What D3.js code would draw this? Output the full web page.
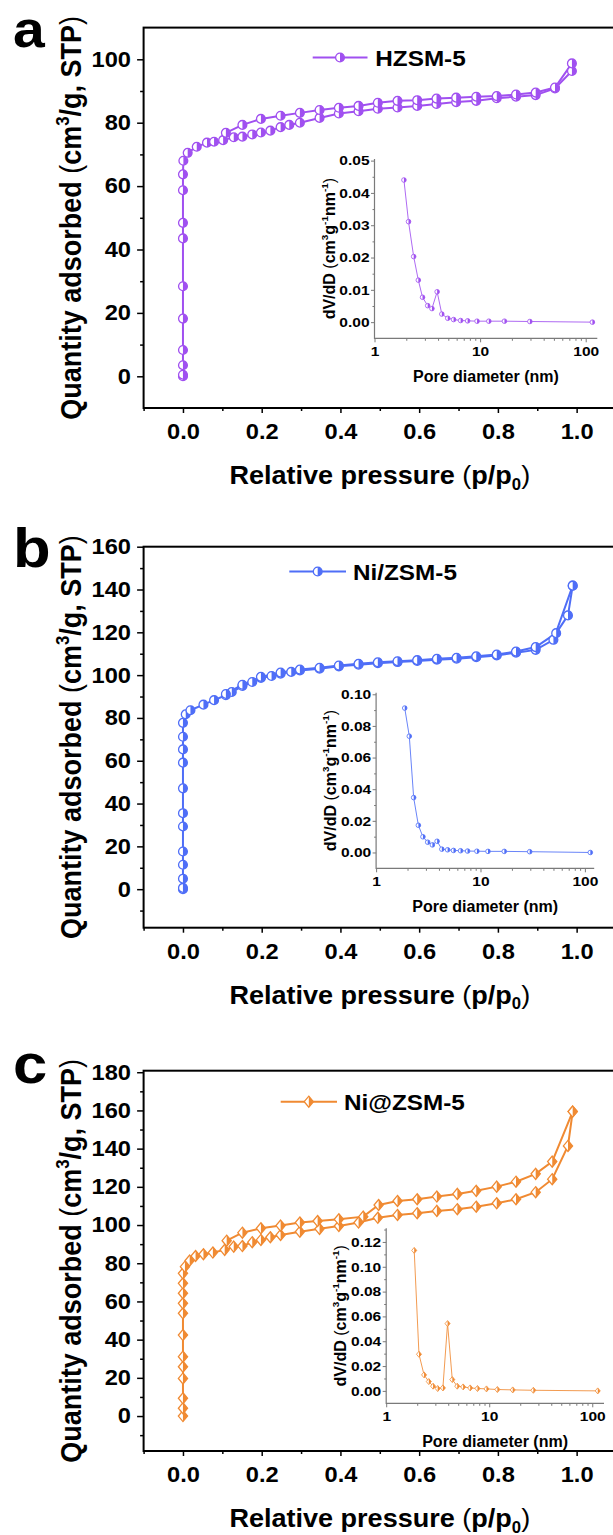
<!DOCTYPE html>
<html>
<head>
<meta charset="utf-8">
<script src="https://cdn.jsdelivr.net/npm/d3@7"></script>
<style>
body { margin: 0; background: #fff; }
svg { display: block; }
text { font-family: "Liberation Sans", Arial, sans-serif; font-weight: bold; fill: #000; }
</style>
</head>
<body>
<svg id="fig" width="613" height="1535"></svg>
<script>
// ---- panel a : HZSM-5 ----
var hzAdsP = [0, 0, 0, 0, 0, 0, 0, 0, 0, 0, 0.001, 0.012, 0.035, 0.061, 0.079, 0.102, 0.129, 0.151, 0.176, 0.198, 0.222, 0.248, 0.270, 0.297, 0.347, 0.396, 0.446, 0.495, 0.545, 0.595, 0.644, 0.694, 0.745, 0.797, 0.846, 0.896, 0.945, 0.988];
var hzAdsQ = [0, 0.5, 3.5, 8.3, 18.2, 28.4, 43.5, 48.4, 58.7, 63.7, 68.0, 70.5, 72.4, 73.7, 74.0, 74.5, 75.4, 75.6, 76.3, 76.9, 77.5, 78.6, 79.3, 80.0, 81.5, 82.9, 83.6, 84.4, 84.8, 85.3, 85.9, 86.5, 86.9, 87.7, 88.2, 88.7, 90.8, 96.3];
var hzDesP = [0.988, 0.945, 0.896, 0.846, 0.797, 0.745, 0.694, 0.644, 0.595, 0.545, 0.495, 0.446, 0.396, 0.347, 0.297, 0.248, 0.198, 0.151, 0.109];
var hzDesQ = [98.7, 91.1, 89.5, 88.9, 88.4, 88.2, 87.9, 87.6, 87.1, 86.9, 86.3, 85.3, 84.7, 84.0, 83.1, 82.2, 81.2, 79.3, 76.8];
var hzPoreD = [1.90, 2.10, 2.35, 2.60, 2.85, 3.19, 3.50, 3.92, 4.34, 4.94, 5.61, 6.54, 7.62, 9.36, 12.1, 17.0, 29.6, 115.7];
var hzPoreV = [0.0440, 0.0311, 0.0203, 0.0130, 0.0077, 0.0051, 0.0042, 0.0094, 0.0025, 0.0012, 0.0008, 0.0005, 0.0004, 0.0003, 0.0003, 0.0003, 0.0002, 0.0000];

// ---- panel b : Ni/ZSM-5 ----
var niAdsP = [0, 0, 0, 0, 0, 0, 0, 0, 0, 0, 0, 0, 0.007, 0.019, 0.052, 0.079, 0.109, 0.124, 0.151, 0.176, 0.198, 0.225, 0.248, 0.275, 0.297, 0.347, 0.396, 0.446, 0.495, 0.545, 0.595, 0.645, 0.695, 0.745, 0.797, 0.846, 0.896, 0.941, 0.990];
var niAdsQ = [0, 0.6, 4.9, 11.4, 17.6, 29.3, 35.5, 47.1, 59.1, 65.3, 71.2, 77.7, 81.7, 83.6, 86.2, 88.3, 90.6, 92.1, 94.9, 96.8, 98.7, 99.6, 100.7, 101.5, 102.2, 103.0, 104.1, 104.9, 105.6, 106.1, 106.6, 107.2, 107.7, 108.4, 109.2, 110.5, 111.8, 116.5, 141.8];
var niDesP = [0.990, 0.978, 0.948, 0.896, 0.846, 0.797, 0.745, 0.695, 0.645, 0.595, 0.545, 0.495, 0.446, 0.396, 0.347, 0.297, 0.248, 0.198, 0.151, 0.109];
var niDesQ = [141.8, 127.9, 119.6, 113.1, 111.0, 109.6, 108.8, 108.1, 107.6, 107.0, 106.5, 106.0, 105.3, 104.5, 103.4, 102.6, 101.2, 99.2, 95.5, 91.2];
var niPoreD = [1.88, 2.08, 2.29, 2.54, 2.81, 3.12, 3.46, 3.84, 4.26, 4.84, 5.51, 6.44, 7.52, 9.24, 11.8, 16.9, 29.6, 112.7];
var niPoreV = [0.0913, 0.0735, 0.0347, 0.0172, 0.0099, 0.0065, 0.0048, 0.0071, 0.0021, 0.0017, 0.0013, 0.0011, 0.0009, 0.0008, 0.0007, 0.0007, 0.0005, 0.0000];

// ---- panel c : Ni@ZSM-5 ----
var encAdsP = [0, 0, 0, 0, 0, 0, 0, 0, 0, 0, 0, 0, 0.005, 0.017, 0.032, 0.052, 0.076, 0.106, 0.129, 0.151, 0.176, 0.198, 0.222, 0.248, 0.297, 0.347, 0.396, 0.446, 0.495, 0.545, 0.595, 0.645, 0.697, 0.745, 0.797, 0.846, 0.896, 0.938, 0.978, 0.990];
var encAdsQ = [0, 4.1, 9.3, 19.7, 25.8, 31.1, 42.4, 53.8, 59.0, 64.3, 69.5, 74.7, 78.2, 81.4, 83.8, 84.7, 85.6, 87.0, 88.7, 89.0, 91.0, 92.2, 93.6, 94.8, 96.5, 98.0, 99.5, 101.3, 103.8, 105.3, 106.2, 107.4, 108.3, 109.6, 111.4, 113.5, 117.2, 124.0, 141.4, 159.4];
var encDesP = [0.990, 0.938, 0.896, 0.846, 0.797, 0.745, 0.697, 0.645, 0.595, 0.545, 0.497, 0.458, 0.396, 0.342, 0.297, 0.248, 0.198, 0.151, 0.111];
var encDesQ = [159.4, 133.2, 126.8, 122.7, 120.1, 117.9, 116.3, 114.9, 113.5, 112.6, 110.5, 104.4, 103.0, 102.1, 101.3, 99.7, 98.3, 96.0, 91.8];
var encPoreD = [1.87, 2.08, 2.33, 2.59, 2.85, 3.16, 3.55, 3.94, 4.38, 4.89, 5.58, 6.53, 7.69, 9.4, 12.0, 16.9, 26.8, 113];
var encPoreV = [0.1132, 0.0295, 0.0129, 0.0075, 0.0038, 0.0019, 0.0024, 0.0542, 0.0091, 0.0038, 0.0032, 0.0024, 0.0019, 0.0016, 0.0011, 0.0008, 0.0005, 0.0000];

// ---- ticks ----
var xMajor = [0, 0.2, 0.4, 0.6, 0.8, 1.0];
var xMinor = [-0.1, 0.1, 0.3, 0.5, 0.7, 0.9];
var yMajorA = [0, 20, 40, 60, 80, 100];
var yMinorA = [10, 30, 50, 70, 90];
var yMajorB = [0, 20, 40, 60, 80, 100, 120, 140, 160];
var yMinorB = [-10, 10, 30, 50, 70, 90, 110, 130, 150];
var yMajorC = [0, 20, 40, 60, 80, 100, 120, 140, 160, 180];
var yMinorC = [-10, 10, 30, 50, 70, 90, 110, 130, 150, 170];
var poreMajor = [1, 10, 100];
var poreMinor = [2, 3, 4, 5, 6, 7, 8, 9, 20, 30, 40, 50, 60, 70, 80, 90];
var inMajorA = [0, 0.01, 0.02, 0.03, 0.04, 0.05];
var inMinorA = [0.005, 0.015, 0.025, 0.035, 0.045];
var inMajorB = [0, 0.02, 0.04, 0.06, 0.08, 0.10];
var inMinorB = [0.01, 0.03, 0.05, 0.07, 0.09];
var inMajorC = [0, 0.02, 0.04, 0.06, 0.08, 0.10, 0.12];
var inMinorC = [0.01, 0.03, 0.05, 0.07, 0.09, 0.11, 0.13];

var svg = d3.select("#fig");

// text made of parts: [string, kind] kind = "" | "thin" | "sup" | "sub"
function label(g, x, y, parts, size, sx, anchor, rot) {
  var tf = "translate(" + x + "," + y + ")" + (rot ? " rotate(-90) scale(1," + sx + ")" : " scale(" + sx + ",1)");
  var t = g.append("text")
    .attr("transform", tf)
    .attr("text-anchor", anchor || "start")
    .style("font-size", size + "px");
  var shift = 0;
  parts.forEach(function (p) {
    var s = t.append("tspan").text(p[0]);
    var want = 0;
    if (p[1] == "sup") { want = -0.42 * size; s.style("font-size", (0.62 * size) + "px"); }
    if (p[1] == "sub") { want = 0.22 * size; s.style("font-size", (0.62 * size) + "px"); }
    if (p[1] == "thin") s.style("font-weight", "normal");
    if (want != shift) { s.attr("dy", want - shift); shift = want; }
  });
  return t;
}

function halfMarker(sel, shape, r, color, sw) {
  sel.each(function () {
    var m = d3.select(this);
    if (shape == "circle") {
      m.append("circle").attr("r", r).attr("fill", "#fff").attr("stroke", color).attr("stroke-width", sw);
      m.append("path").attr("d", "M0," + (-r) + "A" + r + "," + r + " 0 0 1 0," + r + "Z").attr("fill", color);
    } else {
      var h = r * 1.2;
      m.append("path").attr("d", "M0," + (-h) + "L" + r + ",0L0," + h + "L" + (-r) + ",0Z")
        .attr("fill", "#fff").attr("stroke", color).attr("stroke-width", sw);
      m.append("path").attr("d", "M0," + (-h) + "L" + r + ",0L0," + h + "Z").attr("fill", color);
    }
  });
}

function styleAxis(a, color, sw) {
  a.select(".domain").remove();
  a.selectAll(".tick line").attr("stroke", color).attr("stroke-width", sw);
}

function panel(o) {
  var g = svg.append("g");
  var left = 143.6, right = 616;

  var x = d3.scaleLinear().domain([-0.1, 1.1]).range([left, right]);
  var y = d3.scaleLinear().domain(o.yDom).range([o.bottom, o.top]);

  styleAxis(g.append("g").attr("transform", "translate(0," + o.bottom + ")")
    .call(d3.axisBottom(x).tickValues(xMinor).tickSize(3).tickSizeOuter(0).tickFormat("")), "#000", 1.5);
  var xa = g.append("g").attr("transform", "translate(0," + o.bottom + ")")
    .call(d3.axisBottom(x).tickValues(xMajor).tickSize(5).tickSizeOuter(0).tickPadding(11).tickFormat(d3.format(".1f")));
  styleAxis(xa, "#000", 1.5);
  xa.selectAll("text").attr("fill", "#000").style("font-size", "21.5px").attr("transform", "scale(1.1,1)");

  styleAxis(g.append("g").attr("transform", "translate(" + left + ",0)")
    .call(d3.axisLeft(y).tickValues(o.yMinor).tickSize(3.5).tickSizeOuter(0).tickFormat("")), "#000", 1.5);
  var ya = g.append("g").attr("transform", "translate(" + left + ",0)")
    .call(d3.axisLeft(y).tickValues(o.yMajor).tickSize(6.5).tickSizeOuter(0).tickPadding(5));
  styleAxis(ya, "#000", 1.5);
  ya.selectAll("text").attr("fill", "#000").style("font-size", "21.5px").attr("transform", "scale(1.1,1)");

  g.append("rect")
    .attr("x", left).attr("y", o.top)
    .attr("width", right - left).attr("height", o.bottom - o.top)
    .attr("fill", "none").attr("stroke", "#000").attr("stroke-width", 2);

  // isotherm branches
  var line = d3.line().x(function (d) { return x(d[0]); }).y(function (d) { return y(d[1]); });
  var ads = d3.zip(o.adsP, o.adsQ), des = d3.zip(o.desP, o.desQ);
  [ads, des].forEach(function (br) {
    g.append("path").datum(br).attr("d", line)
      .attr("fill", "none").attr("stroke", o.color).attr("stroke-width", 2);
  });
  [ads, des].forEach(function (br) {
    g.append("g").selectAll("g").data(br).enter().append("g")
      .attr("transform", function (d) { return "translate(" + x(d[0]) + "," + y(d[1]) + ")"; })
      .call(halfMarker, o.shape, o.shape == "circle" ? 4.4 : 4.6, o.color, 1.3);
  });

  // legend
  g.append("line")
    .attr("x1", o.legX[0]).attr("x2", o.legX[1]).attr("y1", o.legY).attr("y2", o.legY)
    .attr("stroke", o.color).attr("stroke-width", 2);
  g.append("g").attr("transform", "translate(" + o.legX[2] + "," + o.legY + ")")
    .call(halfMarker, o.shape, o.shape == "circle" ? 4.4 : 4.6, o.color, 1.3);
  label(g, o.legX[3], o.legY + 8, [[o.name, ""]], 22.5, 1.08, "start");

  // titles
  label(g, 13, o.letterY, [[o.letter, ""]], o.letterSize, 1.12, "start");
  label(g, (left + right) / 2, o.bottom + 76,
    [["Relative pressure ", ""], ["(", "thin"], ["p/p", ""], ["0", "sub"], [")", "thin"]], 26, 1.04, "middle");
  label(g, 81, (o.top + o.bottom) / 2,
    [["Quantity adsorbed ", ""], ["(", "thin"], ["cm", ""], ["3", "sup"], ["/g, STP", ""], [")", "thin"]], 27, 1.1, "middle", true);

  // inset: pore size distribution
  var ix = d3.scaleLog().domain([1, o.iXmax]).range([o.iL, o.iR]);
  var iy = d3.scaleLinear().domain(o.iYDom).range([o.iB, o.iT]);
  var gray = "#7a7a7a";

  styleAxis(g.append("g").attr("transform", "translate(0," + o.iB + ")")
    .call(d3.axisBottom(ix).tickValues(poreMinor).tickSize(2.5).tickSizeOuter(0).tickFormat("")), gray, 1);
  var ixa = g.append("g").attr("transform", "translate(0," + o.iB + ")")
    .call(d3.axisBottom(ix).tickValues(poreMajor).tickSize(4).tickSizeOuter(0).tickPadding(4).tickFormat(d3.format("d")));
  styleAxis(ixa, gray, 1);
  ixa.selectAll("text").attr("fill", "#000").style("font-size", "13.5px").attr("transform", "scale(1.15,1)");

  styleAxis(g.append("g").attr("transform", "translate(" + o.iL + ",0)")
    .call(d3.axisLeft(iy).tickValues(o.iMinor).tickSize(2).tickSizeOuter(0).tickFormat("")), gray, 1);
  var iya = g.append("g").attr("transform", "translate(" + o.iL + ",0)")
    .call(d3.axisLeft(iy).tickValues(o.iMajor).tickSize(3.5).tickSizeOuter(0).tickPadding(0.8).tickFormat(d3.format(".2f")));
  styleAxis(iya, gray, 1);
  iya.selectAll("text").attr("fill", "#000").style("font-size", "13.5px").attr("transform", "scale(1.15,1)");

  g.append("path").attr("d", "M" + o.iL + "," + o.iT + "V" + o.iB + "H" + o.iR)
    .attr("fill", "none").attr("stroke", gray).attr("stroke-width", 1.2);

  var pd = d3.zip(o.poreD, o.poreV);
  var iline = d3.line().x(function (d) { return ix(d[0]); }).y(function (d) { return iy(d[1]); });
  g.append("path").datum(pd).attr("d", iline)
    .attr("fill", "none").attr("stroke", o.color).attr("stroke-width", 1).attr("stroke-opacity", 0.85);
  g.append("g").selectAll("g").data(pd).enter().append("g")
    .attr("transform", function (d) { return "translate(" + ix(d[0]) + "," + iy(d[1]) + ")"; })
    .call(halfMarker, o.shape, o.shape == "circle" ? 2.3 : 2.5, o.color, 0.8);

  label(g, (o.iL + o.iR) / 2, o.iB + 43.5, [["Pore diameter (nm)", ""]], 16, 1, "middle");
  label(g, o.iL - 40, (o.iT + o.iB) / 2,
    [["dV/dD ", ""], ["(", "thin"], ["cm", ""], ["3", "sup"], ["g", ""], ["-1", "sup"], ["nm", ""], ["-1", "sup"], [")", "thin"]],
    16, 1, "middle", true);
}

panel({
  letter: "a", letterY: 47, letterSize: 51, name: "HZSM-5", color: "#a050f0", shape: "circle",
  top: 27.6, bottom: 408, yDom: [-10, 110], yMajor: yMajorA, yMinor: yMinorA,
  adsP: hzAdsP, adsQ: hzAdsQ, desP: hzDesP, desQ: hzDesQ,
  legY: 57.5, legX: [312.7, 367.5, 340, 375.3],
  iL: 374.5, iR: 597.3, iXmax: 128.8, iT: 159, iB: 338.3, iYDom: [-0.005, 0.0505],
  iMajor: inMajorA, iMinor: inMinorA, poreD: hzPoreD, poreV: hzPoreV
});

panel({
  letter: "b", letterY: 567, letterSize: 55, name: "Ni/ZSM-5", color: "#4f6ef7", shape: "circle",
  top: 546.7, bottom: 927.7, yDom: [-18, 160], yMajor: yMajorB, yMinor: yMinorB,
  adsP: niAdsP, adsQ: niAdsQ, desP: niDesP, desQ: niDesQ,
  legY: 571.5, legX: [289.3, 346, 317.7, 353],
  iL: 376.1, iR: 594.2, iXmax: 122.8, iT: 692.7, iB: 868.3, iYDom: [-0.01, 0.101],
  iMajor: inMajorB, iMinor: inMinorB, poreD: niPoreD, poreV: niPoreV
});

panel({
  letter: "c", letterY: 1083, letterSize: 55, name: "Ni@ZSM-5", color: "#f08a32", shape: "diamond",
  top: 1070.7, bottom: 1451, yDom: [-18.3, 180.8], yMajor: yMajorC, yMinor: yMinorC,
  adsP: encAdsP, adsQ: encAdsQ, desP: encDesP, desQ: encDesQ,
  legY: 1101.7, legX: [280.7, 337, 308.8, 344],
  iL: 386.2, iR: 604, iXmax: 130, iT: 1228.3, iB: 1403.3, iYDom: [-0.01, 0.131],
  iMajor: inMajorC, iMinor: inMinorC, poreD: encPoreD, poreV: encPoreV
});
</script>
</body>
</html>
